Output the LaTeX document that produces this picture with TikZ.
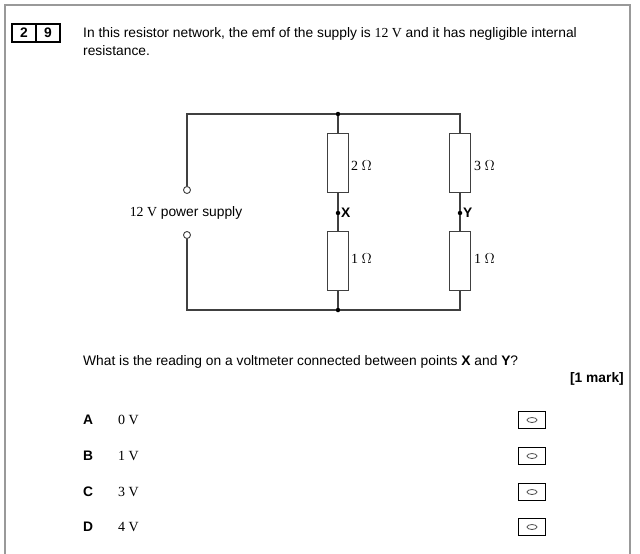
\documentclass[tikz,border=0pt]{standalone}
\usepackage{fontspec}
\setmainfont{Liberation Sans}
\newfontfamily\serif{Liberation Serif}
\usetikzlibrary{positioning}
\tikzset{
  wire/.style={line width=1.1pt, draw=black!75},
  res/.style={draw=black!75, line width=1.1pt, minimum width=21pt, minimum height=59pt, inner sep=0pt},
  dot/.style={circle, fill=black, inner sep=0pt, minimum size=4.5pt},
  term/.style={circle, draw=black!75, line width=0.9pt, fill=white, inner sep=0pt, minimum size=7pt},
  txt/.style={font=\fontsize{13.8}{16}\selectfont, inner sep=0pt},
  btxt/.style={font=\bfseries\fontsize{13.8}{16}\selectfont, inner sep=0pt},
  ohm/.style={font=\serif\fontsize{14}{16}\selectfont, inner sep=0pt, anchor=west},
  abox/.style={draw, line width=1pt, minimum width=27pt, minimum height=17pt, inner sep=0pt}
}
\begin{document}
\begin{tikzpicture}[x=1pt, y=-1pt]
				\useasboundingbox (0,0) rectangle (640,554);
				\draw[black!40, line width=1.2pt] (5,554) -- (5,5) -- (630,5) -- (630,554);
				% question number
				\draw[line width=1.6pt] (12,24) rectangle node[btxt]{2} (36,42);
				\draw[line width=1.6pt] (36,24) rectangle node[btxt]{9} (60,42);
				\node[txt, anchor=west] at (83,34) {In this resistor network, the emf of the supply is {\serif 12 V} and it has negligible internal};
				\node[txt, anchor=west] at (83,51) {resistance.};
				% circuit
				\node[term] (tp) at (187,190) {};
				\node[term] (tm) at (187,235) {};
				\node[txt, anchor=center] (ps) at (186,213) {{\serif 12 V} power supply};
				\node[dot] (jt) at (338,114) {};
				\node[dot] (jb) at (338,310) {};
				\node[res] (ra) at (338,163) {};
				\node[res] (rb) at (338,261) {};
				\node[res] (rc) at (460,163) {};
				\node[res] (rd) at (460,261) {};
				\node[dot] (X) at (338,213) {};
				\node[dot] (Y) at (460,213) {};
				\coordinate (ctl) at (187,114);
				\coordinate (ctr) at (460,114);
				\coordinate (cbl) at (187,310);
				\coordinate (cbr) at (460,310);
				\draw[wire] (tp) -- (ctl) -- (jt) -- (ctr) -- (rc);
				\draw[wire] (tm) -- (cbl) -- (jb) -- (cbr) -- (rd);
				\draw[wire] (jt) -- (ra) -- (X) -- (rb) -- (jb);
				\draw[wire] (rc) -- (Y) -- (rd);
				\node[ohm] at (351,166) {2 $\Omega$};
				\node[ohm] at (351,259) {1 $\Omega$};
				\node[ohm] at (474,166) {3 $\Omega$};
				\node[ohm] at (474,259) {1 $\Omega$};
				\node[btxt, anchor=west] at (341,213) {X};
				\node[btxt, anchor=west] at (463,213) {Y};
				% question and answers
				\node[txt, anchor=west] at (83,362) {What is the reading on a voltmeter connected between points \textbf{X} and \textbf{Y}?};
				\node[btxt, anchor=east] at (624,379) {[1 mark]};
				\foreach \l/\v/\y in {A/0/420, B/1/456, C/3/492, D/4/527} {
					\node[btxt, anchor=west] at (83,\y) {\l};
					\node[ohm] at (118,\y) {\v\ V};
					\node[abox] (box\l) at (532,\y) {};
					\draw[black!70, line width=0.8pt] (box\l.center) ellipse (5pt and 2.5pt);
				}
			\end{tikzpicture}
\end{document}
